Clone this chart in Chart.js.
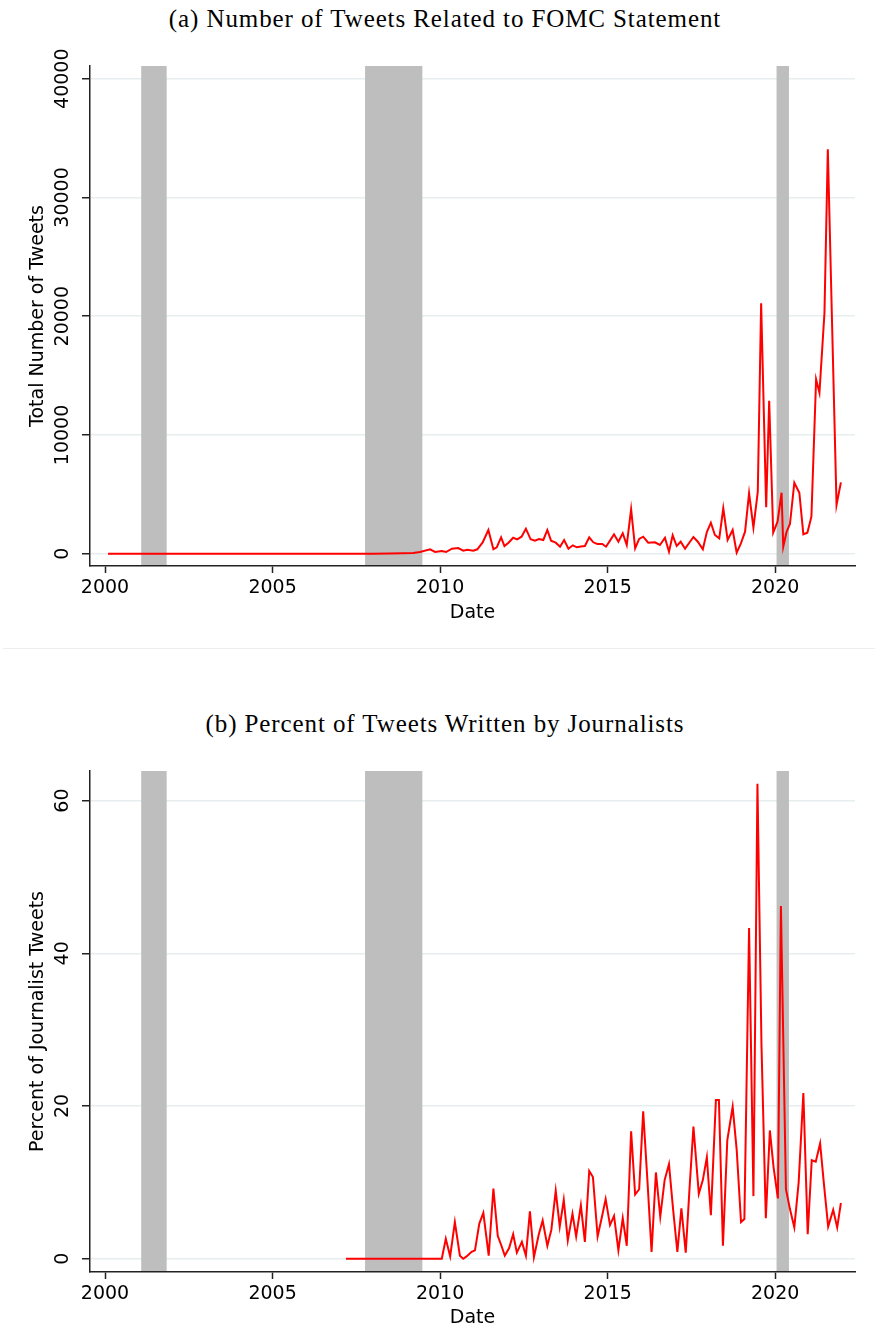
<!DOCTYPE html>
<html><head><meta charset="utf-8">
<script src="https://cdn.jsdelivr.net/npm/chart.js@4/dist/chart.umd.min.js"></script>
<style>
html,body{margin:0;padding:0;background:#fff;}
#wrap{position:relative;width:875px;height:1330px;overflow:hidden;background:#fff;}
canvas{position:absolute;left:0;}
.ttl{position:absolute;left:0;width:890px;text-align:center;font-family:"Liberation Serif",serif;font-size:25px;line-height:24px;letter-spacing:0.9px;color:#000;white-space:nowrap;}
.sep{position:absolute;left:3px;top:648px;width:872px;height:1px;background:#eeeeee;}
</style></head>
<body><div id="wrap">
<div class="ttl" style="top:7px">(a) Number of Tweets Related to FOMC Statement</div>
<canvas id="c1" width="875" height="649" style="top:0"></canvas>
<div class="sep"></div>
<div class="ttl" style="top:712px">(b) Percent of Tweets Written by Journalists</div>
<canvas id="c2" width="875" height="680" style="top:650px"></canvas>
</div>
<script>
// ---- data ----
const xTicks = [2000, 2005, 2010, 2015, 2020];
const yTicksA = [0, 10000, 20000, 30000, 40000];
const yTicksB = [0, 20, 40, 60];
const recStart = [2001.08, 2007.76, 2020.04];
const recEnd = [2001.84, 2009.47, 2020.41];

const tweetDate = [2000.09, 2001.0, 2002.0, 2003.0, 2004.0, 2005.0, 2006.0, 2007.0, 2008.0,
  2008.5, 2008.9, 2009.2, 2009.4, 2009.7, 2009.85,
  2010.05, 2010.18, 2010.35, 2010.54, 2010.69, 2010.81, 2010.99,
  2011.11, 2011.27, 2011.44, 2011.59, 2011.69, 2011.82, 2011.92,
  2012.04, 2012.18, 2012.30, 2012.43, 2012.56, 2012.70, 2012.83, 2012.95,
  2013.08, 2013.20, 2013.31, 2013.45, 2013.58, 2013.70, 2013.83, 2013.96,
  2014.08, 2014.20, 2014.32, 2014.45, 2014.57, 2014.69, 2014.84, 2014.95,
  2015.07, 2015.19, 2015.32, 2015.45, 2015.57, 2015.70, 2015.82, 2015.94,
  2016.06, 2016.21, 2016.31, 2016.41, 2016.56, 2016.71, 2016.83, 2016.94,
  2017.06, 2017.18, 2017.31, 2017.43, 2017.56, 2017.69, 2017.84, 2017.96,
  2018.08, 2018.20, 2018.33, 2018.45, 2018.58, 2018.73, 2018.85, 2018.97,
  2019.10, 2019.22, 2019.35, 2019.48, 2019.58, 2019.73, 2019.82, 2019.94,
  2020.07, 2020.19, 2020.24, 2020.34, 2020.44, 2020.57, 2020.72, 2020.84, 2020.96,
  2021.08, 2021.22, 2021.32, 2021.47, 2021.57, 2021.70, 2021.83, 2021.96];
const tweetCount = [0, 0, 0, 0, 0, 0, 0, 0, 0,
  20, 40, 60, 143, 370, 143,
  227, 143, 421, 480, 253, 337, 253,
  370, 950, 1996, 370, 539, 1380, 648,
  926, 1347, 1212, 1432, 2105, 1212, 1095, 1238,
  1154, 1996, 1095, 926, 590, 1154, 421, 707,
  539, 600, 648, 1380, 960, 817, 817, 590,
  1100, 1634, 1010, 1718, 733, 3739, 455, 1250,
  1432, 926, 950, 960, 733, 1347, 168, 1549,
  648, 1010, 421, 900, 1406, 1010, 370, 1827,
  2610, 1575, 1297, 3823, 1154, 1996, 84, 817,
  1853, 5086, 2189, 5221, 21086, 3907, 12884, 1768,
  2695, 5137, 590, 1853, 2501, 5979, 5137, 1634, 1760,
  3116, 14686, 13558, 20295, 34055, 19000, 4101, 6011];

const journDate = [2007.19, 2007.5, 2007.75, 2008.0, 2008.25, 2008.5, 2008.75, 2009.0, 2009.25, 2009.5, 2009.75, 2010.05,
  2010.17, 2010.30, 2010.44, 2010.59, 2010.69, 2010.79, 2010.94,
  2011.04, 2011.17, 2011.29, 2011.45, 2011.59, 2011.72, 2011.83, 2011.93,
  2012.06, 2012.18, 2012.29, 2012.44, 2012.56, 2012.68, 2012.80, 2012.94,
  2013.06, 2013.20, 2013.32, 2013.45, 2013.57, 2013.69, 2013.81, 2013.95,
  2014.06, 2014.20, 2014.32, 2014.45, 2014.56, 2014.70, 2014.82, 2014.94,
  2015.07, 2015.19, 2015.32, 2015.45, 2015.57, 2015.70, 2015.82, 2015.94,
  2016.06, 2016.19, 2016.31, 2016.44, 2016.57, 2016.70, 2016.83, 2016.95,
  2017.08, 2017.20, 2017.33, 2017.44, 2017.56, 2017.72, 2017.84, 2017.96,
  2018.08, 2018.23, 2018.32, 2018.44, 2018.57, 2018.73, 2018.85, 2018.98,
  2019.08, 2019.22, 2019.35, 2019.47, 2019.59, 2019.72, 2019.84, 2019.95,
  2020.08, 2020.17, 2020.32, 2020.44, 2020.57, 2020.70, 2020.84, 2020.97,
  2021.09, 2021.21, 2021.34, 2021.46, 2021.58, 2021.73, 2021.85, 2021.96];
const journPct = [0, 0, 0, 0, 0, 0, 0, 0, 0, 0, 0, 0,
  2.6, 0.3, 4.8, 0.4, 0, 0.3, 0.9,
  1.1, 4.6, 6.0, 0.4, 9.2, 3.0, 1.7, 0.4,
  1.4, 3.2, 0.8, 2.2, 0.4, 6.2, 0.2, 3.1,
  5.0, 1.7, 3.8, 8.9, 4.2, 7.7, 2.4, 5.9,
  2.9, 7.0, 2.2, 11.5, 10.7, 2.9, 5.3, 7.8,
  4.4, 5.6, 1.1, 5.3, 1.7, 16.7, 8.4, 9.1,
  19.3, 10, 0.9, 11.3, 5.5, 10.3, 12.4, 6.6,
  0.9, 6.6, 0.8, 9, 17.3, 8.5, 10.3, 13.3,
  5.7, 20.8, 20.8, 1.7, 15.5, 19.9, 14.3, 4.8,
  5.2, 43.3, 8.2, 62.2, 28, 5.3, 16.8, 12,
  7.9, 46.2, 9.1, 6.5, 4.1, 10, 21.7, 3.2,
  12.9, 12.7, 15.1, 9.5, 4.2, 6.4, 4.1, 7.3];

// ---- drawing ----
const FONT = 'DejaVu Sans';
const recPlugin = {
  id: 'rec',
  beforeDatasetsDraw(chart) {
    const {ctx, chartArea: a, scales: {x}} = chart;
    ctx.save();
    ctx.fillStyle = '#bebebe';
    recStart.forEach((s, i) => {
      const x0 = x.getPixelForValue(s), x1 = x.getPixelForValue(recEnd[i]);
      ctx.fillRect(x0, a.top, x1 - x0, a.bottom - a.top);
    });
    ctx.restore();
  }
};
const yLabPlugin = {
  id: 'ylab',
  afterDraw(chart, args, opts) {
    const {ctx, scales: {y}} = chart;
    ctx.save();
    ctx.font = '19px "' + FONT + '"';
    ctx.fillStyle = '#000';
    ctx.textAlign = 'center';
    ctx.textBaseline = 'middle';
    opts.ticks.forEach(v => {
      const py = y.getPixelForValue(v);
      ctx.save();
      ctx.translate(opts.x, py);
      ctx.rotate(-Math.PI / 2);
      ctx.fillText(String(v), 0, 0);
      ctx.restore();
    });
    ctx.restore();
  }
};

function makeChart(id, dates, vals, yTicks, yMin, yMax, yTitle, padTop, xH, dateBottom) {
  const pts = dates.map((d, i) => ({x: d, y: vals[i]}));
  return new Chart(document.getElementById(id), {
    type: 'line',
    data: {datasets: [{data: pts, borderColor: '#ff0000', borderWidth: 2, pointRadius: 0, tension: 0, fill: false}]},
    plugins: [recPlugin, yLabPlugin],
    options: {
      responsive: false, animation: false, events: [],
      layout: {padding: {top: padTop, right: 20, left: 0, bottom: 0}},
      plugins: {legend: {display: false}, tooltip: {enabled: false}, ylab: {ticks: yTicks, x: 63}},
      scales: {
        x: {
          type: 'linear', min: 1999.552, max: 2022.381,
          afterBuildTicks: s => { s.ticks = xTicks.map(v => ({value: v})); },
          afterFit: s => { s.height = xH; },
          grid: {drawOnChartArea: false, drawTicks: true, tickLength: 7, tickColor: '#222', tickWidth: 1.5},
          border: {display: true, color: '#222', width: 1.5, z: 1},
          ticks: {font: {family: FONT, size: 19}, color: '#000', padding: 4, maxRotation: 0, autoSkip: false, callback: v => String(v)},
          title: {display: true, text: 'Date', font: {family: FONT, size: 19}, color: '#000', padding: {top: 0, bottom: dateBottom}}
        },
        y: {
          type: 'linear', min: yMin, max: yMax,
          afterBuildTicks: s => { s.ticks = yTicks.map(v => ({value: v})); },
          afterFit: s => { s.width = 90; },
          grid: {color: '#e6eef0', lineWidth: 1.5, drawTicks: true, tickLength: 8, tickColor: '#222', tickWidth: 1.5},
          border: {display: true, color: '#222', width: 1.5, z: 1},
          ticks: {display: false},
          title: {display: true, text: yTitle, font: {family: FONT, size: 19}, color: '#000', padding: {top: 26.6, bottom: 0}}
        }
      }
    }
  });
}

makeChart('c1', tweetDate, tweetCount, yTicksA, -1036, 41069, 'Total Number of Tweets', 66, 83, 24.6);
makeChart('c2', journDate, journPct, yTicksB, -1.74, 63.88, 'Percent of Journalist Tweets', 121, 58, 0.6);
</script>
</body></html>
